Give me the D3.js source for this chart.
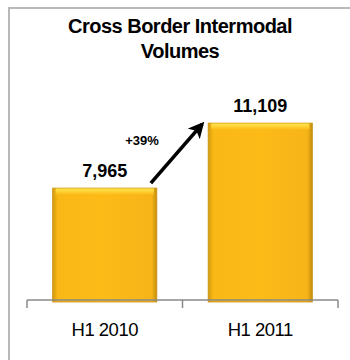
<!DOCTYPE html>
<html>
<head>
<meta charset="utf-8">
<style>
  body { margin: 0; background: #fff; }
  svg { display: block; font-family: "Liberation Sans", Arial, sans-serif; }
</style>
</head>
<body>
<div id="chart"></div>
<script src="https://d3js.org/d3.v7.min.js"></script>
<script>
  // Chart data
  const categories = ['H1 2010', 'H1 2011'];
  const volumes = [7965, 11109];
  const valueLabels = ['7,965', '11,109'];
  const growthLabel = '+39%';
  const titleLines = ['Cross Border Intermodal', 'Volumes'];

  const width = 350;
  const height = 360;

  const svg = d3.select('#chart')
    .append('svg')
    .attr('width', width)
    .attr('height', height);

  // gradient for the bars
  const defs = svg.append('defs');
  const grad = defs.append('linearGradient')
    .attr('id', 'barGrad')
    .attr('x1', '0%').attr('x2', '100%')
    .attr('y1', '0%').attr('y2', '0%');
  grad.append('stop').attr('offset', '0%').attr('stop-color', '#d29a10');
  grad.append('stop').attr('offset', '5%').attr('stop-color', '#f9b816');
  grad.append('stop').attr('offset', '50%').attr('stop-color', '#fdbb18');
  grad.append('stop').attr('offset', '95%').attr('stop-color', '#f6b418');
  grad.append('stop').attr('offset', '100%').attr('stop-color', '#c48e0c');

  const topGrad = defs.append('linearGradient')
    .attr('id', 'topGrad')
    .attr('x1', '0%').attr('x2', '0%')
    .attr('y1', '0%').attr('y2', '100%');
  topGrad.append('stop').attr('offset', '0%').attr('stop-color', '#ffe64e');
  topGrad.append('stop').attr('offset', '100%').attr('stop-color', '#fdbb18');

  // frame lines (left + top)
  svg.append('path')
    .attr('d', 'M9,360 V8 H350')
    .attr('fill', 'none')
    .attr('stroke', '#b8b8b8')
    .attr('stroke-width', 2);

  // scales
  const x = d3.scaleBand()
    .domain(categories)
    .range([27, 338])
    .paddingInner(0.33)
    .paddingOuter(0.165);

  const y = d3.scaleLinear()
    .domain([2550, 12000])
    .range([300, 104.7]);

  // title
  svg.append('text')
    .attr('x', 180)
    .attr('y', 33)
    .attr('text-anchor', 'middle')
    .attr('font-size', 20)
    .attr('font-weight', 'bold')
    .attr('letter-spacing', -0.5)
    .selectAll('tspan')
    .data(titleLines)
    .enter()
    .append('tspan')
    .attr('x', 180)
    .attr('dy', (d, i) => i === 0 ? 0 : 25)
    .text(d => d);

  // bars
  const bars = svg.selectAll('.bar')
    .data(volumes)
    .enter()
    .append('g')
    .attr('class', 'bar');

  bars.append('rect')
    .attr('x', (d, i) => x(categories[i]))
    .attr('y', d => y(d))
    .attr('width', x.bandwidth())
    .attr('height', d => y.range()[0] + 2 - y(d))
    .attr('fill', 'url(#barGrad)')
    .attr('stroke', '#c9930f')
    .attr('stroke-width', 0.8);

  bars.append('rect')
    .attr('x', (d, i) => x(categories[i]) + 3)
    .attr('y', d => y(d) + 0.5)
    .attr('width', x.bandwidth() - 6)
    .attr('height', 6)
    .attr('fill', 'url(#topGrad)');

  // value labels
  svg.selectAll('.val')
    .data(volumes)
    .enter()
    .append('text')
    .attr('class', 'val')
    .attr('x', (d, i) => x(categories[i]) + x.bandwidth() / 2)
    .attr('y', d => y(d) - 11)
    .attr('text-anchor', 'middle')
    .attr('font-size', 18)
    .attr('font-weight', 'bold')
    .text((d, i) => valueLabels[i]);

  // axis
  const base = y.range()[0];
  const bounds = [27, 27 + x.step(), 338];
  svg.append('line')
    .attr('x1', 27).attr('x2', 338)
    .attr('y1', base).attr('y2', base)
    .attr('stroke', '#8a8a8a')
    .attr('stroke-width', 1.5);
  svg.selectAll('.tick-b')
    .data(bounds)
    .enter()
    .append('line')
    .attr('x1', d => d).attr('x2', d => d)
    .attr('y1', base).attr('y2', base + 8)
    .attr('stroke', '#8a8a8a')
    .attr('stroke-width', 1.5);

  const axis = svg.append('g')
    .attr('transform', `translate(0,${base})`)
    .call(d3.axisBottom(x).tickSize(0).tickPadding(23));
  axis.select('.domain').remove();
  axis.selectAll('text')
    .attr('font-size', 18.5)
    .attr('font-family', '"Liberation Sans", Arial, sans-serif')
    .attr('letter-spacing', -0.5)
    .attr('fill', '#000');

  // growth arrow
  defs.append('marker')
    .attr('id', 'head')
    .attr('viewBox', '0 0 10 10')
    .attr('refX', 8).attr('refY', 5)
    .attr('markerWidth', 4.5).attr('markerHeight', 4.5)
    .attr('orient', 'auto')
    .append('path')
    .attr('d', 'M0,0 L10,5 L0,10 L2.5,5 Z')
    .attr('fill', '#000');

  const x0 = x(categories[0]) + x.bandwidth() - 6;
  const x1 = x(categories[1]) - 6;
  svg.append('line')
    .attr('x1', x0).attr('y1', y(volumes[0]) - 5)
    .attr('x2', x1).attr('y2', y(volumes[1]) + 1)
    .attr('stroke', '#000')
    .attr('stroke-width', 3.6)
    .attr('marker-end', 'url(#head)');

  svg.append('text')
    .attr('x', 142)
    .attr('y', 145)
    .attr('text-anchor', 'middle')
    .attr('font-size', 13)
    .attr('font-weight', 'bold')
    .text(growthLabel);
</script>
</body>
</html>
